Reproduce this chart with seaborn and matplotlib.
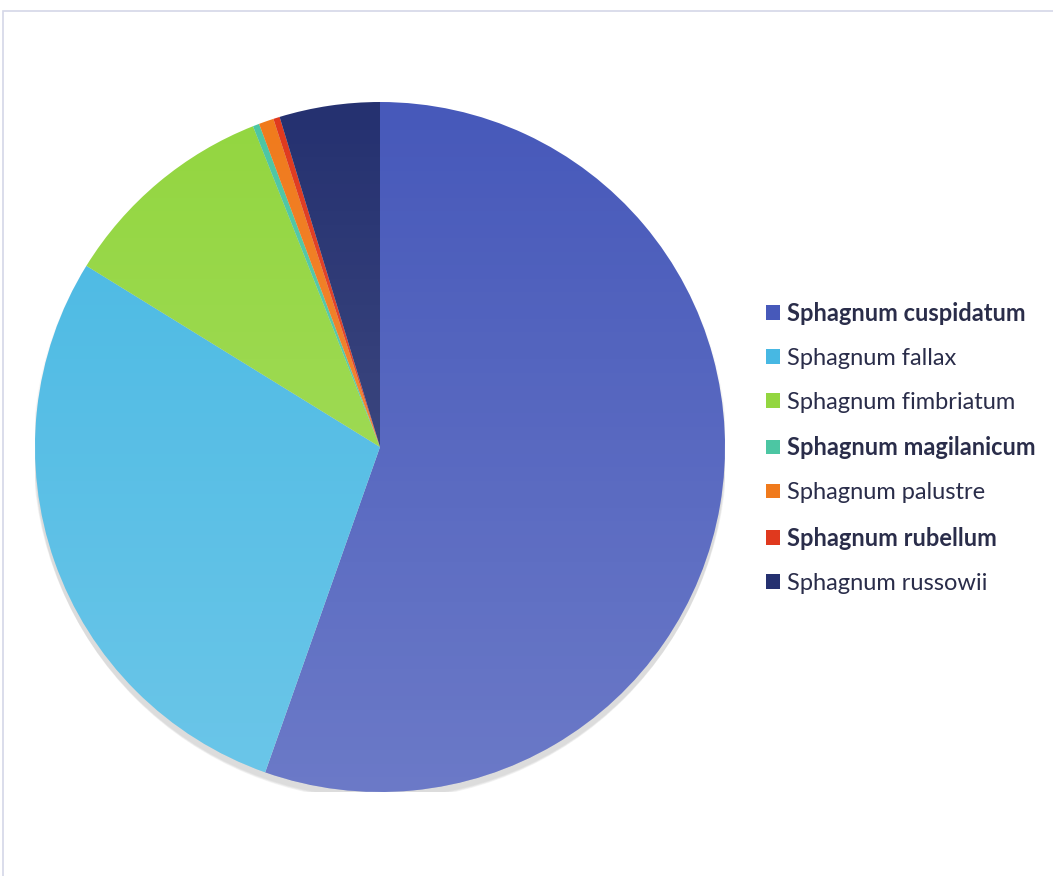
import numpy as np
import matplotlib
matplotlib.use("Agg")
import matplotlib.pyplot as plt
from matplotlib.patches import Patch, Circle, Rectangle
import seaborn as sns

# Share of each Sphagnum species (%)
species = [
    "Sphagnum cuspidatum",
    "Sphagnum fallax",
    "Sphagnum fimbriatum",
    "Sphagnum magilanicum",
    "Sphagnum palustre",
    "Sphagnum rubellum",
    "Sphagnum russowii",
]
shares = [55.4, 28.4, 10.2, 0.3, 0.7, 0.3, 4.7]
bold_species = ["Sphagnum cuspidatum", "Sphagnum magilanicum", "Sphagnum rubellum"]
colors = ["#4759ba", "#47b8e3", "#93d640", "#4cc6a3", "#f07a1c", "#e0391e", "#253170"]

sns.set_theme(style="white")
plt.rcParams["font.family"] = ["Lato", "DejaVu Sans"]

W, H = 1053, 876
fig = plt.figure(figsize=(W / 100, H / 100), dpi=100)
fig.patch.set_facecolor("white")

# thin frame around the chart area
frame = Rectangle((3 / W, -0.01), 1.05, 1 - 11 / H + 0.01, transform=fig.transFigure,
                  fill=False, edgecolor="#d4d7e8", linewidth=1.2)
fig.add_artist(frame)

cx, cy, r = 380, 447, 345
ax = fig.add_axes([(cx - r) / W, (H - cy - r) / H, 2 * r / W, 2 * r / H])

# soft drop shadow under the pie
for i, a in enumerate([0.05, 0.05, 0.05, 0.06]):
    ax.add_patch(Circle((0.0, -0.012 - 0.004 * i), 1.0 + 0.002 * (3 - i),
                        color="#555555", alpha=a, lw=0, zorder=0))

wedges, _ = ax.pie(shares, colors=colors, startangle=90, counterclock=False,
                   radius=1.0, wedgeprops=dict(linewidth=0))
for w in wedges:
    w.set_zorder(1)

# light vertical sheen: brighter toward the bottom
grad = np.zeros((256, 2, 4))
grad[..., :3] = 1.0
grad[..., 3] = np.linspace(0.0, 0.2, 256)[:, None]
im = ax.imshow(grad, extent=(-1, 1, -1, 1), origin="upper", aspect="auto",
               interpolation="bilinear", zorder=2)
clip = Circle((0, 0), 1.0, transform=ax.transData)
im.set_clip_path(clip)

ax.set_xlim(-1.0, 1.0)
ax.set_ylim(-1.0, 1.0)
ax.set_aspect("equal")
ax.axis("off")

handles = [Patch(facecolor=c, edgecolor="none") for c in colors]
leg = fig.legend(handles, species, loc="upper left",
                 bbox_to_anchor=(754 / W, 1 - 290 / H), frameon=False,
                 fontsize=17, handlelength=0.58, handleheight=0.58,
                 handletextpad=0.3, labelspacing=0.98, borderpad=0)
for t in leg.get_texts():
    t.set_color("#2a2d4a")
    if t.get_text() in bold_species:
        t.set_fontweight("bold")

fig.savefig("out.png", dpi=100)
